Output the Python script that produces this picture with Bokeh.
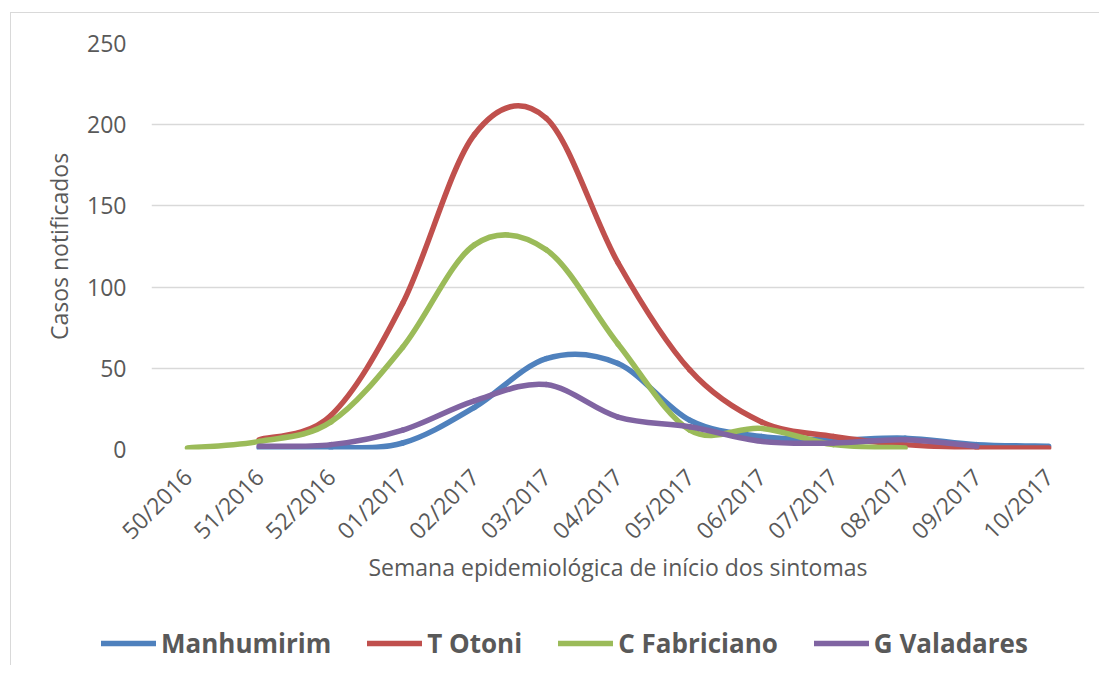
import math
from bokeh.plotting import figure
from bokeh.models import Range1d, FixedTicker, Legend, LegendItem
from bokeh.embed import file_html
from bokeh.resources import INLINE

weeks = ["50/2016", "51/2016", "52/2016", "01/2017", "02/2017", "03/2017", "04/2017",
         "05/2017", "06/2017", "07/2017", "08/2017", "09/2017", "10/2017"]
# None = no data for that week
manhumirim = [None, 1, 1, 4, 26, 56, 53, 18, 8, 6, 7, 3, 2]
t_otoni = [None, 6, 21, 90, 194, 204, 115, 49, 17, 8, 3, 1, 1]
c_fabriciano = [1, 5, 17, 63, 126, 123, 65, 12, 13, 3, 1, None, None]
g_valadares = [None, 2, 3, 12, 30, 40, 20, 14, 5, 4, 6, 2, None]

series_names = ["Manhumirim", "T Otoni", "C Fabriciano", "G Valadares"]
series_values = [manhumirim, t_otoni, c_fabriciano, g_valadares]
colors = ["#4f81bd", "#c0504d", "#9bbb59", "#8064a2"]

TEXT = "#595959"
FONT = "Open Sans"
BORDER = "1px solid #d9d9d9"

p = figure(width=1089, height=588, output_backend="svg", toolbar_location=None,
           x_range=Range1d(-0.5, 12.5), y_range=Range1d(0, 250),
           min_border_left=140, min_border_right=16, min_border_top=30, min_border_bottom=152)
p.margin = (12, 0, 0, 10)
p.styles = {"border-left": BORDER, "border-top": BORDER}
p.outline_line_color = None
p.background_fill_color = "white"

p.xgrid.grid_line_color = None
p.ygrid.grid_line_color = "#d9d9d9"
p.ygrid.grid_line_width = 1.5

p.yaxis.ticker = FixedTicker(ticks=[0, 50, 100, 150, 200, 250])
p.xaxis.ticker = FixedTicker(ticks=list(range(len(weeks))))
p.xaxis.major_label_overrides = {i: w for i, w in enumerate(weeks)}
p.xaxis.major_label_orientation = math.pi / 4

for ax in (p.xaxis, p.yaxis):
    ax.axis_line_color = None
    ax.major_tick_line_color = None
    ax.minor_tick_line_color = None
    ax.major_label_text_font = FONT
    ax.major_label_text_font_size = "23px"
    ax.major_label_text_color = TEXT
    ax.axis_label_text_font = FONT
    ax.axis_label_text_font_size = "23px"
    ax.axis_label_text_color = TEXT
    ax.axis_label_text_font_style = "normal"

p.xaxis.major_label_standoff = 17
p.yaxis.major_label_standoff = 19
p.xaxis.axis_label = "Semana epidemiológica de início dos sintomas"
p.yaxis.axis_label = "Casos notificados"
p.xaxis.axis_label_standoff = -9
p.yaxis.axis_label_standoff = 9

# legend lives in a small companion figure placed below the chart;
# its key lines reuse the series data but fall outside its (empty) view
lf = figure(width=1089, height=65, output_backend="svg", toolbar_location=None,
            x_range=Range1d(-0.5, 12.5), y_range=Range1d(-2, -1),
            x_axis_type=None, y_axis_type=None,
            min_border_left=0, min_border_right=0, min_border_top=0, min_border_bottom=0)
lf.margin = (0, 0, 0, 10)
lf.styles = {"border-left": BORDER}
lf.outline_line_color = None
lf.xgrid.visible = False
lf.ygrid.visible = False

items = []
for name, vals, col in zip(series_names, series_values, colors):
    pts = [(i, v) for i, v in enumerate(vals) if v is not None]
    n = len(pts)
    x0, y0, x1, y1, cx0, cy0, cx1, cy1 = ([] for _ in range(8))
    for k in range(n - 1):
        pa = pts[k]
        pb = pts[k + 1]
        pm = pts[k - 1] if k > 0 else pts[k]
        pp = pts[k + 2] if k + 2 < n else pts[k + 1]
        x0.append(pa[0]); y0.append(pa[1])
        x1.append(pb[0]); y1.append(pb[1])
        cx0.append(pa[0] + (pb[0] - pm[0]) / 6.0)
        cy0.append(pa[1] + (pb[1] - pm[1]) / 6.0)
        cx1.append(pb[0] - (pp[0] - pa[0]) / 6.0)
        cy1.append(pb[1] - (pp[1] - pa[1]) / 6.0)
    p.bezier(x0=x0, y0=y0, x1=x1, y1=y1, cx0=cx0, cy0=cy0, cx1=cx1, cy1=cy1,
             line_color=col, line_width=5.5, line_cap="round")
    lr = lf.line(x=[q[0] for q in pts], y=[q[1] for q in pts],
                 line_color=col, line_width=5.5, line_cap="round")
    items.append(LegendItem(label=name, renderers=[lr]))

legend = Legend(items=items, orientation="horizontal", location=(90, 4),
                glyph_width=55, glyph_height=26, label_standoff=5, spacing=36,
                padding=0, margin=0, border_line_color=None, background_fill_alpha=0,
                label_text_font=FONT, label_text_font_style="bold",
                label_text_font_size="26px", label_text_color=TEXT)
lf.add_layout(legend, "center")

open("out.html", "w").write(file_html([p, lf], INLINE))
